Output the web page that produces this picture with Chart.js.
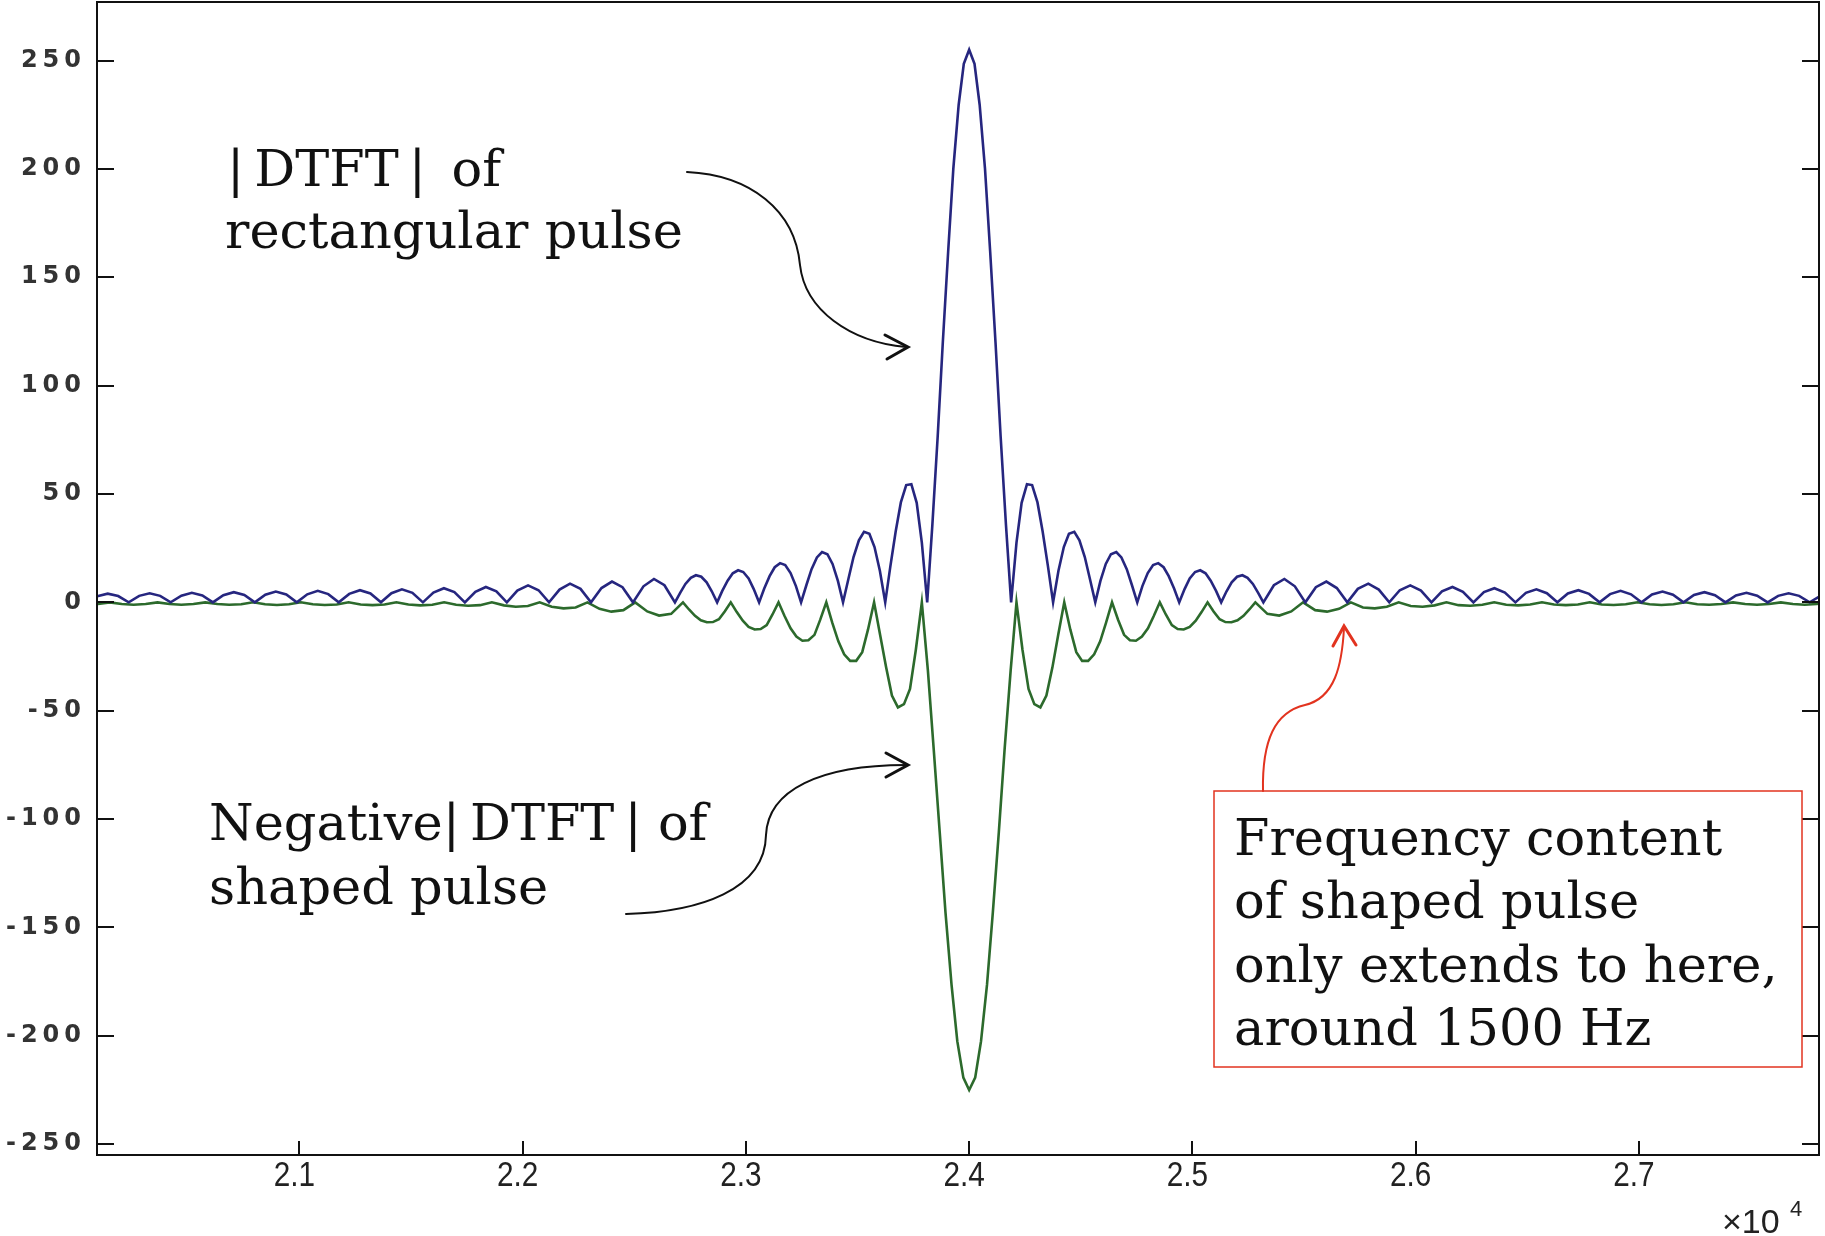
<!DOCTYPE html>
<html lang="en">
<head>
<meta charset="UTF-8">
<title>|DTFT| of rectangular and shaped pulse</title>
<script src="https://cdn.jsdelivr.net/npm/chart.js@4.4.1/dist/chart.umd.min.js"></script>
<style>
  html, body { margin: 0; padding: 0; background: #fff; }
  #wrap { width: 1825px; height: 1236px; position: relative; }
</style>
</head>
<body>
<div id="wrap"><canvas id="chart"></canvas></div>
<script>
// |DTFT| of the rectangular pulse (blue), frequency in Hz
const blueFreq = [
  20094, 20141, 20188, 20235,
  20282, 20329, 20376, 20423,
  20471, 20518, 20565, 20612,
  20659, 20706, 20753, 20800,
  20847, 20894, 20941, 20988,
  21035, 21082, 21129, 21176,
  21223, 21271, 21318, 21365,
  21412, 21459, 21506, 21553,
  21600, 21647, 21694, 21741,
  21788, 21835, 21882, 21929,
  21976, 22024, 22071, 22118,
  22165, 22212, 22259, 22306,
  22353, 22400, 22447, 22494,
  22541, 22588, 22635, 22682,
  22706, 22729, 22753, 22776, 22800, 22824, 22847, 22871,
  22894, 22918, 22941, 22965, 22988, 23012, 23035, 23059,
  23082, 23106, 23129, 23153, 23176, 23200, 23224, 23247,
  23271, 23294, 23318, 23341, 23365, 23388, 23412, 23435,
  23459, 23482, 23506, 23529, 23553, 23576, 23600, 23624,
  23647, 23671, 23694, 23718, 23741, 23765, 23788, 23812,
  23835, 23859, 23882, 23906, 23929, 23953, 23976, 24000,
  24024, 24047, 24071, 24094, 24118, 24141, 24165, 24188,
  24212, 24235, 24259, 24282, 24306, 24329, 24353, 24376,
  24400, 24424, 24447, 24471, 24494, 24518, 24541, 24565,
  24588, 24612, 24635, 24659, 24682, 24706, 24729, 24753,
  24776, 24800, 24824, 24847, 24871, 24894, 24918, 24941,
  24965, 24988, 25012, 25035, 25059, 25082, 25106, 25129,
  25153, 25176, 25200, 25224, 25247, 25271, 25294, 25318,
  25365, 25412, 25459, 25506,
  25553, 25600, 25647, 25694,
  25741, 25788, 25835, 25882,
  25929, 25976, 26024, 26071,
  26118, 26165, 26212, 26259,
  26306, 26353, 26400, 26447,
  26494, 26541, 26588, 26635,
  26682, 26729, 26777, 26824,
  26871, 26918, 26965, 27012,
  27059, 27106, 27153, 27200,
  27247, 27294, 27341, 27388,
  27435, 27482, 27530, 27577,
  27624, 27671, 27718, 27765,
  27812
];
const blueMag = [
  2.8, 4.0, 2.9, 0,
  3.0, 4.2, 3.0, 0,
  3.1, 4.4, 3.2, 0,
  3.3, 4.7, 3.4, 0,
  3.5, 5.0, 3.6, 0,
  3.7, 5.3, 3.8, 0,
  3.9, 5.6, 4.1, 0,
  4.2, 6.0, 4.4, 0,
  4.5, 6.5, 4.7, 0,
  4.9, 7.1, 5.1, 0,
  5.4, 7.8, 5.6, 0,
  5.9, 8.6, 6.2, 0,
  6.6, 9.6, 7.0, 0,
  7.4, 10.8, 7.9, 0,
  4.5, 8.5, 11.3, 12.5, 11.8, 9.2, 5.1, 0,
  5.3, 10.0, 13.4, 14.8, 14.0, 11.0, 6.1, 0,
  6.4, 12.1, 16.2, 18.1, 17.2, 13.5, 7.5, 0,
  8.0, 15.3, 20.7, 23.2, 22.2, 17.7, 9.9, 0,
  10.8, 20.9, 28.6, 32.5, 31.6, 25.5, 14.6, 0,
  16.6, 32.8, 46.1, 54.1, 54.5, 45.9, 27.6, 0,
  35.5, 76.5, 120, 162, 200, 229.6, 248.5, 255,
  248.5, 229.6, 200, 162, 120, 76.5, 35.5, 0,
  27.6, 45.9, 54.5, 54.1, 46.1, 32.8, 16.6, 0,
  14.6, 25.5, 31.6, 32.5, 28.6, 20.9, 10.8, 0,
  9.9, 17.7, 22.2, 23.2, 20.7, 15.3, 8.0, 0,
  7.5, 13.5, 17.2, 18.1, 16.2, 12.1, 6.4, 0,
  6.1, 11.0, 14.0, 14.8, 13.4, 10.0, 5.3, 0,
  5.1, 9.2, 11.8, 12.5, 11.3, 8.5, 4.5, 0,
  7.9, 10.8, 7.4, 0,
  7.0, 9.6, 6.6, 0,
  6.2, 8.6, 5.9, 0,
  5.6, 7.8, 5.4, 0,
  5.1, 7.1, 4.9, 0,
  4.7, 6.5, 4.5, 0,
  4.4, 6.0, 4.2, 0,
  4.1, 5.6, 3.9, 0,
  3.8, 5.3, 3.7, 0,
  3.6, 5.0, 3.5, 0,
  3.4, 4.7, 3.3, 0,
  3.2, 4.4, 3.1, 0,
  3.0, 4.2, 3.0, 0,
  2.9
];

// negative |DTFT| of the shaped pulse (green)
const greenFreq = [
  20043, 20097, 20150,
  20204, 20257, 20311, 20364,
  20418, 20471, 20525, 20578,
  20632, 20685, 20739, 20792,
  20846, 20899, 20953, 21006,
  21060, 21113, 21167, 21220,
  21274, 21327, 21381, 21434,
  21488, 21541, 21595, 21648,
  21702, 21755, 21809, 21862,
  21916, 21969, 22023, 22076,
  22130, 22183, 22237, 22290,
  22344, 22397, 22451, 22504,
  22558, 22611, 22665, 22718,
  22745, 22772, 22798, 22825, 22852, 22879, 22905, 22932,
  22959, 22986, 23012, 23039, 23066, 23093, 23119, 23146,
  23173, 23200, 23226, 23253, 23280, 23307, 23333, 23360,
  23387, 23414, 23440, 23467, 23494, 23521, 23547, 23574,
  23601, 23628, 23654, 23681, 23708, 23735, 23761, 23788,
  23815, 23841, 23868, 23894, 23921, 23947, 23974, 24000,
  24027, 24053, 24080, 24106, 24133, 24159, 24186, 24212,
  24239, 24266, 24292, 24319, 24346, 24373, 24399, 24426,
  24453, 24480, 24506, 24533, 24560, 24587, 24613, 24640,
  24667, 24694, 24720, 24747, 24774, 24801, 24827, 24854,
  24881, 24908, 24934, 24961, 24988, 25015, 25041, 25068,
  25095, 25122, 25148, 25175, 25202, 25229, 25255, 25282,
  25336, 25389, 25443, 25496,
  25550, 25603, 25657, 25710,
  25764, 25817, 25871, 25924,
  25978, 26031, 26085, 26138,
  26192, 26245, 26299, 26352,
  26406, 26459, 26513, 26566,
  26620, 26673, 26727, 26780,
  26834, 26887, 26941, 26994,
  27048, 27101, 27155, 27208,
  27262, 27315, 27369, 27422,
  27476, 27529, 27583, 27636,
  27690, 27743, 27797, 27850
];
const greenMag = [
  -1.1, -0.8, 0,
  -0.8, -1.1, -0.8, 0,
  -0.8, -1.1, -0.8, 0,
  -0.8, -1.1, -0.9, 0,
  -0.9, -1.2, -0.9, 0,
  -0.9, -1.2, -1.0, 0,
  -1.0, -1.3, -1.0, 0,
  -1.0, -1.4, -1.1, 0,
  -1.1, -1.6, -1.3, 0,
  -1.4, -2.0, -1.7, 0,
  -2.0, -2.8, -2.4, 0,
  -3.0, -4.3, -3.6, 0,
  -4.2, -6.1, -5.3, 0,
  -3.3, -6.2, -8.3, -9.2, -9.1, -7.8, -4.2, 0,
  -4.5, -8.5, -11.3, -12.5, -12.3, -10.5, -5.6, 0,
  -6.3, -12.0, -15.8, -17.7, -17.5, -15.0, -8.0, 0,
  -9.5, -18.0, -24.0, -27.0, -27.0, -23.0, -12.5, 0,
  -15.0, -30.0, -43.0, -48.5, -47.0, -40.0, -22.0, 0,
  -31.3, -67.5, -105.9, -143.2, -176.4, -202.6, -219.3, -225,
  -219.3, -202.6, -176.4, -143.2, -105.9, -67.5, -31.3, 0,
  -22.0, -40.0, -47.0, -48.5, -43.0, -30.0, -15.0, 0,
  -12.5, -23.0, -27.0, -27.0, -24.0, -18.0, -9.5, 0,
  -8.0, -15.0, -17.5, -17.7, -15.8, -12.0, -6.3, 0,
  -5.6, -10.5, -12.3, -12.5, -11.3, -8.5, -4.5, 0,
  -4.2, -7.8, -9.1, -9.2, -8.3, -6.2, -3.3, 0,
  -5.3, -6.1, -4.2, 0,
  -3.6, -4.3, -3.0, 0,
  -2.4, -2.8, -2.0, 0,
  -1.7, -2.0, -1.4, 0,
  -1.3, -1.6, -1.1, 0,
  -1.1, -1.4, -1.0, 0,
  -1.0, -1.3, -1.0, 0,
  -1.0, -1.2, -0.9, 0,
  -0.9, -1.2, -0.9, 0,
  -0.9, -1.1, -0.8, 0,
  -0.8, -1.1, -0.8, 0,
  -0.8, -1.1, -0.8, 0
];

const xTickValues = [21000, 22000, 23000, 24000, 25000, 26000, 27000];
const xTickLabels = ['2.1', '2.2', '2.3', '2.4', '2.5', '2.6', '2.7'];
const yTickValues = [-250, -200, -150, -100, -50, 0, 50, 100, 150, 200, 250];
const yTickLabels = ['-250', '-200', '-150', '-100', '-50', '0', '50', '100', '150', '200', '250'];

const toPoints = (xs, ys) => xs.map((x, i) => ({ x: x, y: ys[i] }));

function arrowHead(ctx, tip, b1, b2) {
  ctx.beginPath();
  ctx.moveTo(b1[0], b1[1]);
  ctx.lineTo(tip[0], tip[1]);
  ctx.lineTo(b2[0], b2[1]);
  ctx.stroke();
}

// matlab style box, inward ticks, labels and the notes
const frame = {
  id: 'frame',
  afterDraw(chart) {
    const ctx = chart.ctx;
    const a = chart.chartArea;
    const xs = chart.scales.x;
    const ys = chart.scales.y;
    ctx.save();

    ctx.strokeStyle = '#111';
    ctx.lineWidth = 2;
    ctx.strokeRect(a.left, a.top, a.right - a.left, a.bottom - a.top);

    ctx.beginPath();
    yTickValues.forEach(v => {
      const y = Math.round(ys.getPixelForValue(v));
      ctx.moveTo(a.left, y); ctx.lineTo(a.left + 17, y);
      ctx.moveTo(a.right, y); ctx.lineTo(a.right - 17, y);
    });
    xTickValues.forEach(v => {
      const x = Math.round(xs.getPixelForValue(v));
      ctx.moveTo(x, a.bottom); ctx.lineTo(x, a.bottom - 14);
    });
    ctx.stroke();

    ctx.fillStyle = '#333';
    ctx.font = 'bold 24px "DejaVu Sans"';
    ctx.letterSpacing = '5px';
    ctx.textAlign = 'right';
    ctx.textBaseline = 'middle';
    yTickValues.forEach((v, i) => ctx.fillText(yTickLabels[i], 86, ys.getPixelForValue(v)));
    ctx.letterSpacing = '0px';

    ctx.fillStyle = '#222';
    ctx.textBaseline = 'alphabetic';
    ctx.textAlign = 'center';
    ctx.font = '35px "Liberation Sans"';
    xTickValues.forEach((v, i) => {
      ctx.save();
      ctx.translate(xs.getPixelForValue(v) - 5, 1186);
      ctx.scale(0.85, 1);
      ctx.fillText(xTickLabels[i], 0, 0);
      ctx.restore();
    });

    ctx.textAlign = 'left';
    ctx.font = '34px "Liberation Sans"';
    ctx.fillText('\u00d710', 1722, 1233);
    ctx.font = '22px "Liberation Sans"';
    ctx.fillText('4', 1790, 1216);

    // annotations
    ctx.fillStyle = '#111';
    ctx.font = '51px "DejaVu Serif"';
    ctx.fillText('|\u2009DTFT\u2009|\u2002of', 227, 186);
    ctx.fillText('rectangular pulse', 225, 248);
    ctx.fillText('Negative|\u2009DTFT\u2009| of', 209, 840);
    ctx.fillText('shaped pulse', 209, 904);
    ctx.fillText('Frequency content', 1234, 855);
    ctx.fillText('of shaped pulse', 1234, 918);
    ctx.fillText('only extends to here,', 1234, 982);
    ctx.fillText('around 1500 Hz', 1234, 1045);

    ctx.strokeStyle = '#111';
    ctx.lineWidth = 2;
    ctx.lineCap = 'round';
    ctx.beginPath();
    ctx.moveTo(687, 172);
    ctx.bezierCurveTo(750, 175, 795, 210, 800, 265);
    ctx.bezierCurveTo(805, 310, 850, 342, 906, 347);
    ctx.stroke();
    ctx.lineWidth = 3;
    arrowHead(ctx, [908, 347], [885, 335], [887, 359]);

    ctx.lineWidth = 2;
    ctx.beginPath();
    ctx.moveTo(626, 914);
    ctx.bezierCurveTo(700, 912, 765, 890, 766, 835);
    ctx.bezierCurveTo(768, 790, 820, 765, 906, 765);
    ctx.stroke();
    ctx.lineWidth = 3;
    arrowHead(ctx, [908, 765], [886, 753], [886, 777]);

    ctx.strokeStyle = '#e2331f';
    ctx.lineWidth = 1.5;
    ctx.strokeRect(1214, 791, 588, 276);
    ctx.lineWidth = 2;
    ctx.beginPath();
    ctx.moveTo(1263, 791);
    ctx.bezierCurveTo(1262, 740, 1275, 712, 1305, 705);
    ctx.bezierCurveTo(1335, 698, 1342, 665, 1344, 628);
    ctx.stroke();
    ctx.lineWidth = 3;
    arrowHead(ctx, [1344, 626], [1333, 646], [1356, 645]);

    ctx.restore();
  }
};

new Chart(document.getElementById('chart'), {
  type: 'line',
  data: {
    datasets: [
      { data: toPoints(blueFreq, blueMag), borderColor: '#26267f', borderWidth: 2.6, pointRadius: 0, tension: 0 },
      { data: toPoints(greenFreq, greenMag), borderColor: '#2c6a2c', borderWidth: 2.6, pointRadius: 0, tension: 0 }
    ]
  },
  options: {
    responsive: true,
    maintainAspectRatio: false,
    animation: false,
    layout: { padding: { top: 2, right: 6, left: 0, bottom: 0 } },
    plugins: { legend: { display: false }, tooltip: { enabled: false } },
    scales: {
      x: {
        type: 'linear', min: 20093, max: 27807,
        afterFit: s => { s.height = 81; },
        afterBuildTicks: s => { s.ticks = xTickValues.map(v => ({ value: v })); },
        ticks: { display: false },
        grid: { display: false },
        border: { display: false }
      },
      y: {
        type: 'linear', min: -255, max: 277,
        afterFit: s => { s.width = 97; },
        afterBuildTicks: s => { s.ticks = yTickValues.map(v => ({ value: v })); },
        ticks: { display: false },
        grid: { display: false },
        border: { display: false }
      }
    }
  },
  plugins: [frame]
});
</script>
</body>
</html>
